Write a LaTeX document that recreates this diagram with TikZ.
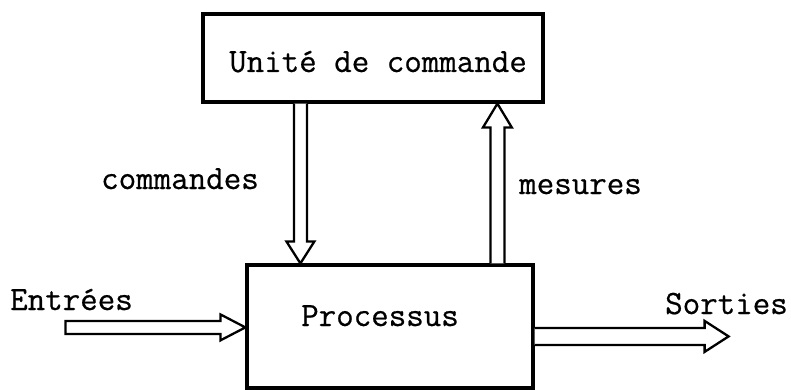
\documentclass[tikz,border=0pt]{standalone}
\usepackage{fontspec}
\newfontfamily\typewriter[FakeBold=0.6]{Latin Modern Mono}
\usetikzlibrary{calc}
\begin{document}
\begin{tikzpicture}[x=1pt,y=-1pt,
  box/.style={draw, line width=3.2pt, inner sep=0pt},
  hollow/.style={draw, line width=2.3pt, line join=miter, fill=white},
  lbl/.style={anchor=base west, inner sep=0pt, font=\typewriter\fontsize{34}{34}\selectfont}]
\useasboundingbox (0,0) rectangle (791,390);
% boxes
\node[box, minimum width=340pt, minimum height=88pt] (ctrl) at (373,58) {};
\node[box, minimum width=286pt, minimum height=123pt] (proc) at (390,326.5) {};
% texts
\node[lbl] (ctrltxt) at (229,72) {Unité de commande};
\node[lbl] (proctxt) at (301,326) {Processus};
\node[lbl] (cmdtxt) at (101,189) {commandes};
\node[lbl] (mestxt) at (519,194) {mesures};
\node[lbl] (intxt) at (10,310) {Entrées};
\node[lbl] (outtxt) at (665,314) {Sorties};
% commandes arrow
\coordinate (cA) at ($(ctrl.south west)+(99,0)$);
\coordinate (cB) at (cA |- proc.north);
\draw[hollow] ($(cA)+(-6.5,0)$) -- ($(cB)+(-6.5,-22)$) -- ($(cB)+(-14,-22)$) -- (cB)
  -- ($(cB)+(14,-22)$) -- ($(cB)+(6.5,-22)$) -- ($(cA)+(6.5,0)$);
% mesures arrow
\coordinate (mA) at ($(proc.north west)+(252,0)$);
\coordinate (mB) at (mA |- ctrl.south);
\draw[hollow] ($(mA)+(-7,0)$) -- ($(mB)+(-7,24)$) -- ($(mB)+(-14.5,24)$) -- (mB)
  -- ($(mB)+(14.5,24)$) -- ($(mB)+(7,24)$) -- ($(mA)+(7,0)$);
% entrees arrow
\coordinate (eB) at ($(proc.north west)+(0,64)$);
\coordinate (eA) at ($(eB)+(-180,0)$);
\draw[hollow] ($(eA)+(0,-6.5)$) -- ($(eB)+(-25,-6.5)$) -- ($(eB)+(-25,-13)$) -- (eB)
  -- ($(eB)+(-25,13)$) -- ($(eB)+(-25,6.5)$) -- ($(eA)+(0,6.5)$) -- cycle;
% sorties arrow
\coordinate (sA) at ($(proc.north east)+(0,73)$);
\coordinate (sB) at ($(sA)+(194,0)$);
\draw[hollow] ($(sA)+(0,-8.5)$) -- ($(sB)+(-24,-8.5)$) -- ($(sB)+(-24,-15.5)$) -- (sB)
  -- ($(sB)+(-24,15.5)$) -- ($(sB)+(-24,8.5)$) -- ($(sA)+(0,8.5)$);
\end{tikzpicture}
\end{document}
